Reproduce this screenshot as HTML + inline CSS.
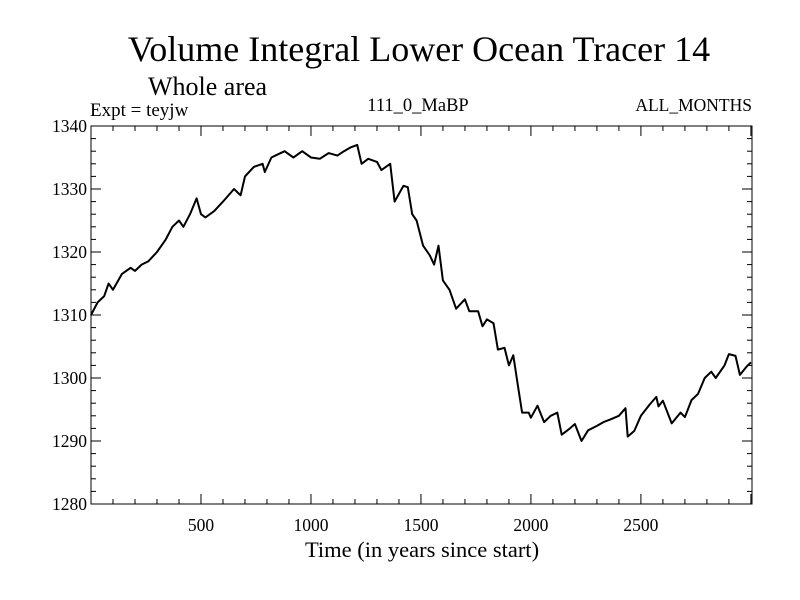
<!DOCTYPE html>
<html><head><meta charset="utf-8"><style>body{margin:0;background:#fff}svg{display:block}text{font-family:"Liberation Serif",serif;fill:#000}</style></head>
<body>
<svg id="chart" width="800" height="600" viewBox="0 0 800 600">
<text x="419" y="61" font-size="36" text-anchor="middle">Volume Integral Lower Ocean Tracer 14</text>
<text x="148" y="95" font-size="26">Whole area</text>
<text x="90" y="116" font-size="19">Expt = teyjw</text>
<text x="418" y="111" font-size="18.5" text-anchor="middle">111_0_MaBP</text>
<text x="752" y="111" font-size="17.5" text-anchor="end">ALL_MONTHS</text>
<text x="422" y="557" font-size="22.5" text-anchor="middle">Time (in years since start)</text>
<g id="axes"></g>
<path id="series" fill="none" stroke="#000" stroke-width="2" stroke-linejoin="round"/>
<rect x="91" y="126" width="661" height="378" fill="none" stroke="#000" stroke-width="1"/>
</svg>
<script>
const years=[0,30,60,80,100,140,180,200,230,260,300,340,370,400,420,450,480,500,520,560,600,650,680,700,740,780,790,820,850,880,920,960,1000,1040,1080,1120,1150,1180,1210,1230,1260,1300,1320,1360,1380,1420,1440,1460,1480,1510,1540,1560,1580,1600,1630,1660,1700,1720,1760,1780,1800,1830,1850,1880,1900,1920,1940,1960,1990,2000,2030,2060,2090,2120,2140,2170,2200,2230,2260,2300,2330,2360,2400,2430,2440,2470,2500,2540,2570,2580,2600,2640,2680,2700,2730,2760,2790,2820,2840,2880,2900,2930,2950,2980,3000];
const values=[1310,1312,1313,1315,1314,1316.5,1317.5,1317,1318,1318.5,1320,1322,1324,1325,1324,1326,1328.5,1326,1325.5,1326.5,1328,1330,1329,1332,1333.5,1334,1332.7,1335,1335.5,1336,1335,1336,1335,1334.8,1335.7,1335.3,1336,1336.6,1337,1334,1334.8,1334.3,1333,1334,1328,1330.5,1330.3,1326,1325,1321,1319.5,1318,1321,1315.5,1314,1311,1312.5,1310.6,1310.6,1308.2,1309.3,1308.7,1304.5,1304.8,1302,1303.6,1299,1294.5,1294.5,1293.7,1295.6,1293,1294,1294.5,1291,1291.8,1292.7,1290,1291.7,1292.4,1293,1293.4,1294,1295.2,1290.7,1291.6,1294,1295.8,1297,1295.5,1296.4,1292.8,1294.5,1293.8,1296.5,1297.5,1300,1301,1300,1302,1303.8,1303.5,1300.5,1301.8,1302.5];
const xTicks=[500,1000,1500,2000,2500];
const yTicks=[1280,1290,1300,1310,1320,1330,1340];
const X0=91,X1=752,Y0=504,Y1=126,XMIN=0,XMAX=3005,YMIN=1280,YMAX=1340;
const sx=v=>X0+(v-XMIN)/(XMAX-XMIN)*(X1-X0);
const sy=v=>Y0-(v-YMIN)/(YMAX-YMIN)*(Y0-Y1);
const NS='http://www.w3.org/2000/svg';
const g=document.getElementById('axes');
function ln(x1,y1,x2,y2){const l=document.createElementNS(NS,'line');l.setAttribute('x1',x1);l.setAttribute('y1',y1);l.setAttribute('x2',x2);l.setAttribute('y2',y2);l.setAttribute('stroke','#000');l.setAttribute('stroke-width','1');g.appendChild(l);return l;}
for(let v=100;v<XMAX;v+=100){const L=v%500===0?10:5;
const a=ln(sx(v),Y0,sx(v),Y0-L);
const b=ln(sx(v),Y1,sx(v),Y1+L);}
for(let v=YMIN+2;v<YMAX;v+=2){const L=v%10===0?10:5;
const a=ln(X0,sy(v),X0+L,sy(v));
const b=ln(X1,sy(v),X1-L,sy(v));}
xTicks.forEach(v=>{const t=document.createElementNS(NS,'text');t.setAttribute('x',sx(v));t.setAttribute('y',Y0+27);t.setAttribute('font-size','17.5');t.setAttribute('text-anchor','middle');t.textContent=v;


g.appendChild(t);});
yTicks.forEach(v=>{const t=document.createElementNS(NS,'text');t.setAttribute('x',X0-4);t.setAttribute('y',sy(v)+6);t.setAttribute('font-size','17.5');t.setAttribute('text-anchor','end');t.textContent=v;


g.appendChild(t);});
document.getElementById('series').setAttribute('d',years.map((y,i)=>(i?'L':'M')+sx(y).toFixed(1)+' '+sy(values[i]).toFixed(1)).join(' '));
</script>
</body></html>
